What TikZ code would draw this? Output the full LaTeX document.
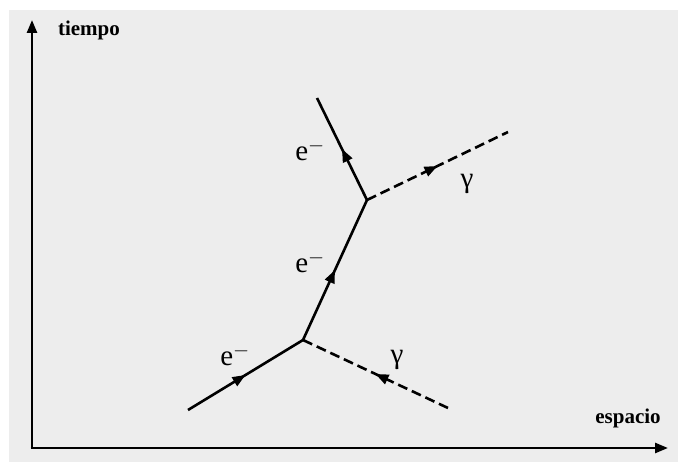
\documentclass[tikz,border=0pt]{standalone}
\usepackage{fontspec}
\setmainfont{Liberation Serif}
\usetikzlibrary{arrows.meta,decorations.markings}
\begin{document}
\begin{tikzpicture}[x=1pt,y=-1pt,
  axisline/.style={line width=2.6pt,-{Triangle[length=13pt,width=10pt]}},
  midtip/.style={postaction={decorate},
    decoration={markings,mark=at position 0.5 with {\arrow[solid]{Triangle[length=13pt,width=10pt]}}}},
  fermion/.style={line width=2.6pt,midtip},
  photon/.style={line width=2.6pt,dash pattern=on 10pt off 5pt,midtip},
  axislabel/.style={font=\fontsize{21}{24}\selectfont\bfseries,inner sep=0pt},
  partlabel/.style={font=\fontsize{29}{31}\selectfont,inner sep=0pt}]
\useasboundingbox (0,0) rectangle (678,462);
\fill[white] (0,0) rectangle (678,462);
\fill[black!7] (9,10) rectangle (678,462);
% axes
\coordinate (O) at (32,448);
\coordinate (T) at (32,20);
\coordinate (S) at (668,448);
\draw[axisline] ([yshift=1.3pt]O) -- (T);
\draw[axisline] ([xshift=-1.3pt]O) -- (S);
\node[axislabel] (tl) at (89,30) {tiempo};
\node[axislabel] (sl) at (628,418) {espacio};
% vertices and ends
\coordinate (v1) at (303,340);
\coordinate (v2) at (367,200);
\coordinate (ein) at (188,410);
\coordinate (eout) at (317,98);
\coordinate (gin) at (448,408);
\coordinate (gout) at (508,132);
\draw[fermion] (ein) -- (v1);
\draw[fermion] (v1) -- (v2);
\draw[fermion] (v2) -- (eout);
\draw[photon] (gin) -- (v1);
\draw[photon] (v2) -- (gout);
% labels
\node[partlabel] (l1) at (235,355) {e$^{-}$};
\node[partlabel] (l2) at (310,262) {e$^{-}$};
\node[partlabel] (l3) at (310,150) {e$^{-}$};
\node[partlabel] (l4) at (397,360) {γ};
\node[partlabel] (l5) at (467,184) {γ};
\end{tikzpicture}
\end{document}
